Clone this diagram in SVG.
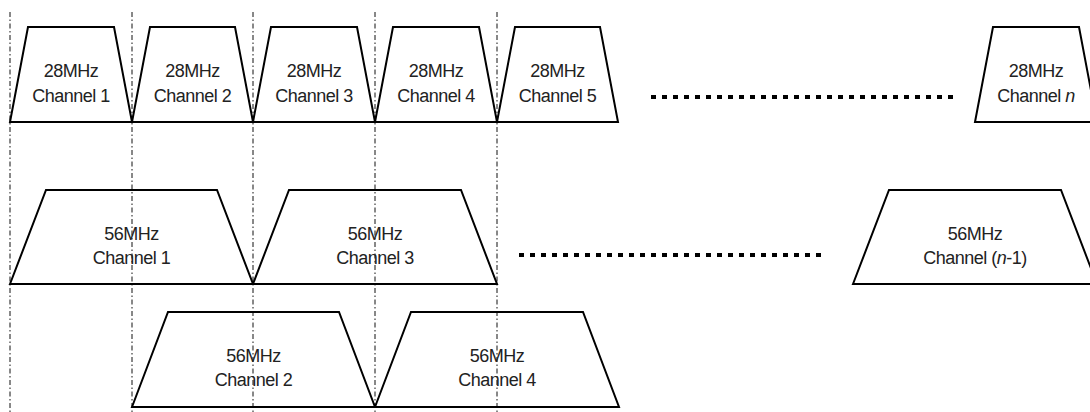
<svg xmlns="http://www.w3.org/2000/svg" width="1090" height="412" viewBox="0 0 1090 412">
<style>
.ch{fill:none;stroke:#000;stroke-width:2;stroke-linejoin:miter}
.t{font-family:"Liberation Sans",Arial,sans-serif;font-size:18px;letter-spacing:-0.5px;fill:#222;text-anchor:middle}
.guide{stroke:#111;stroke-width:1;stroke-dasharray:5 2.5 1.5 2.5}
.ell{stroke:#000;stroke-width:4;stroke-dasharray:5 6}
</style>
<rect width="1090" height="412" fill="#fff"/>
<g id="guides">
<line class="guide" x1="10" y1="12" x2="10" y2="412"/>
<line class="guide" x1="132" y1="12" x2="132" y2="412"/>
<line class="guide" x1="253" y1="12" x2="253" y2="412"/>
<line class="guide" x1="375" y1="12" x2="375" y2="412"/>
<line class="guide" x1="497" y1="12" x2="497" y2="412"/>
</g>
<g id="ch28-1"><polygon class="ch" points="10,122 28,27 114,27 132,122"/><text class="t" x="71" y="77">28MHz</text><text class="t" x="71" y="102">Channel 1</text></g>
<g id="ch28-2"><polygon class="ch" points="132,122 150,27 235,27 253,122"/><text class="t" x="192.5" y="77">28MHz</text><text class="t" x="192.5" y="102">Channel 2</text></g>
<g id="ch28-3"><polygon class="ch" points="253,122 271,27 357,27 375,122"/><text class="t" x="314" y="77">28MHz</text><text class="t" x="314" y="102">Channel 3</text></g>
<g id="ch28-4"><polygon class="ch" points="375,122 393,27 479,27 497,122"/><text class="t" x="436" y="77">28MHz</text><text class="t" x="436" y="102">Channel 4</text></g>
<g id="ch28-5"><polygon class="ch" points="497,122 515,27 600,27 618,122"/><text class="t" x="557.5" y="77">28MHz</text><text class="t" x="557.5" y="102">Channel 5</text></g>
<g id="ch28-n"><polygon class="ch" points="975,122 993,27 1079,27 1097,122"/><text class="t" x="1036" y="77">28MHz</text><text class="t" x="1036" y="102">Channel <tspan font-style="italic">n</tspan></text></g>
<g id="ch56-1"><polygon class="ch" points="10,284 46,190 217,190 253,284"/><text class="t" x="131.5" y="240">56MHz</text><text class="t" x="131.5" y="264">Channel 1</text></g>
<g id="ch56-3"><polygon class="ch" points="253,284 289,190 461,190 497,284"/><text class="t" x="375" y="240">56MHz</text><text class="t" x="375" y="264">Channel 3</text></g>
<g id="ch56-n1"><polygon class="ch" points="853,284 889,190 1061,190 1097,284"/><text class="t" x="975" y="240">56MHz</text><text class="t" x="975" y="264">Channel (<tspan font-style="italic">n</tspan>-1)</text></g>
<g id="ch56-2"><polygon class="ch" points="132,407 168,312 339,312 375,407"/><text class="t" x="253.5" y="362">56MHz</text><text class="t" x="253.5" y="386">Channel 2</text></g>
<g id="ch56-4"><polygon class="ch" points="375,407 411,312 583,312 619,407"/><text class="t" x="497" y="362">56MHz</text><text class="t" x="497" y="386">Channel 4</text></g>
<g id="ellipses">
<line class="ell" x1="651" y1="97" x2="955" y2="97"/>
<line class="ell" x1="519" y1="255" x2="826" y2="255"/>
</g>
</svg>
